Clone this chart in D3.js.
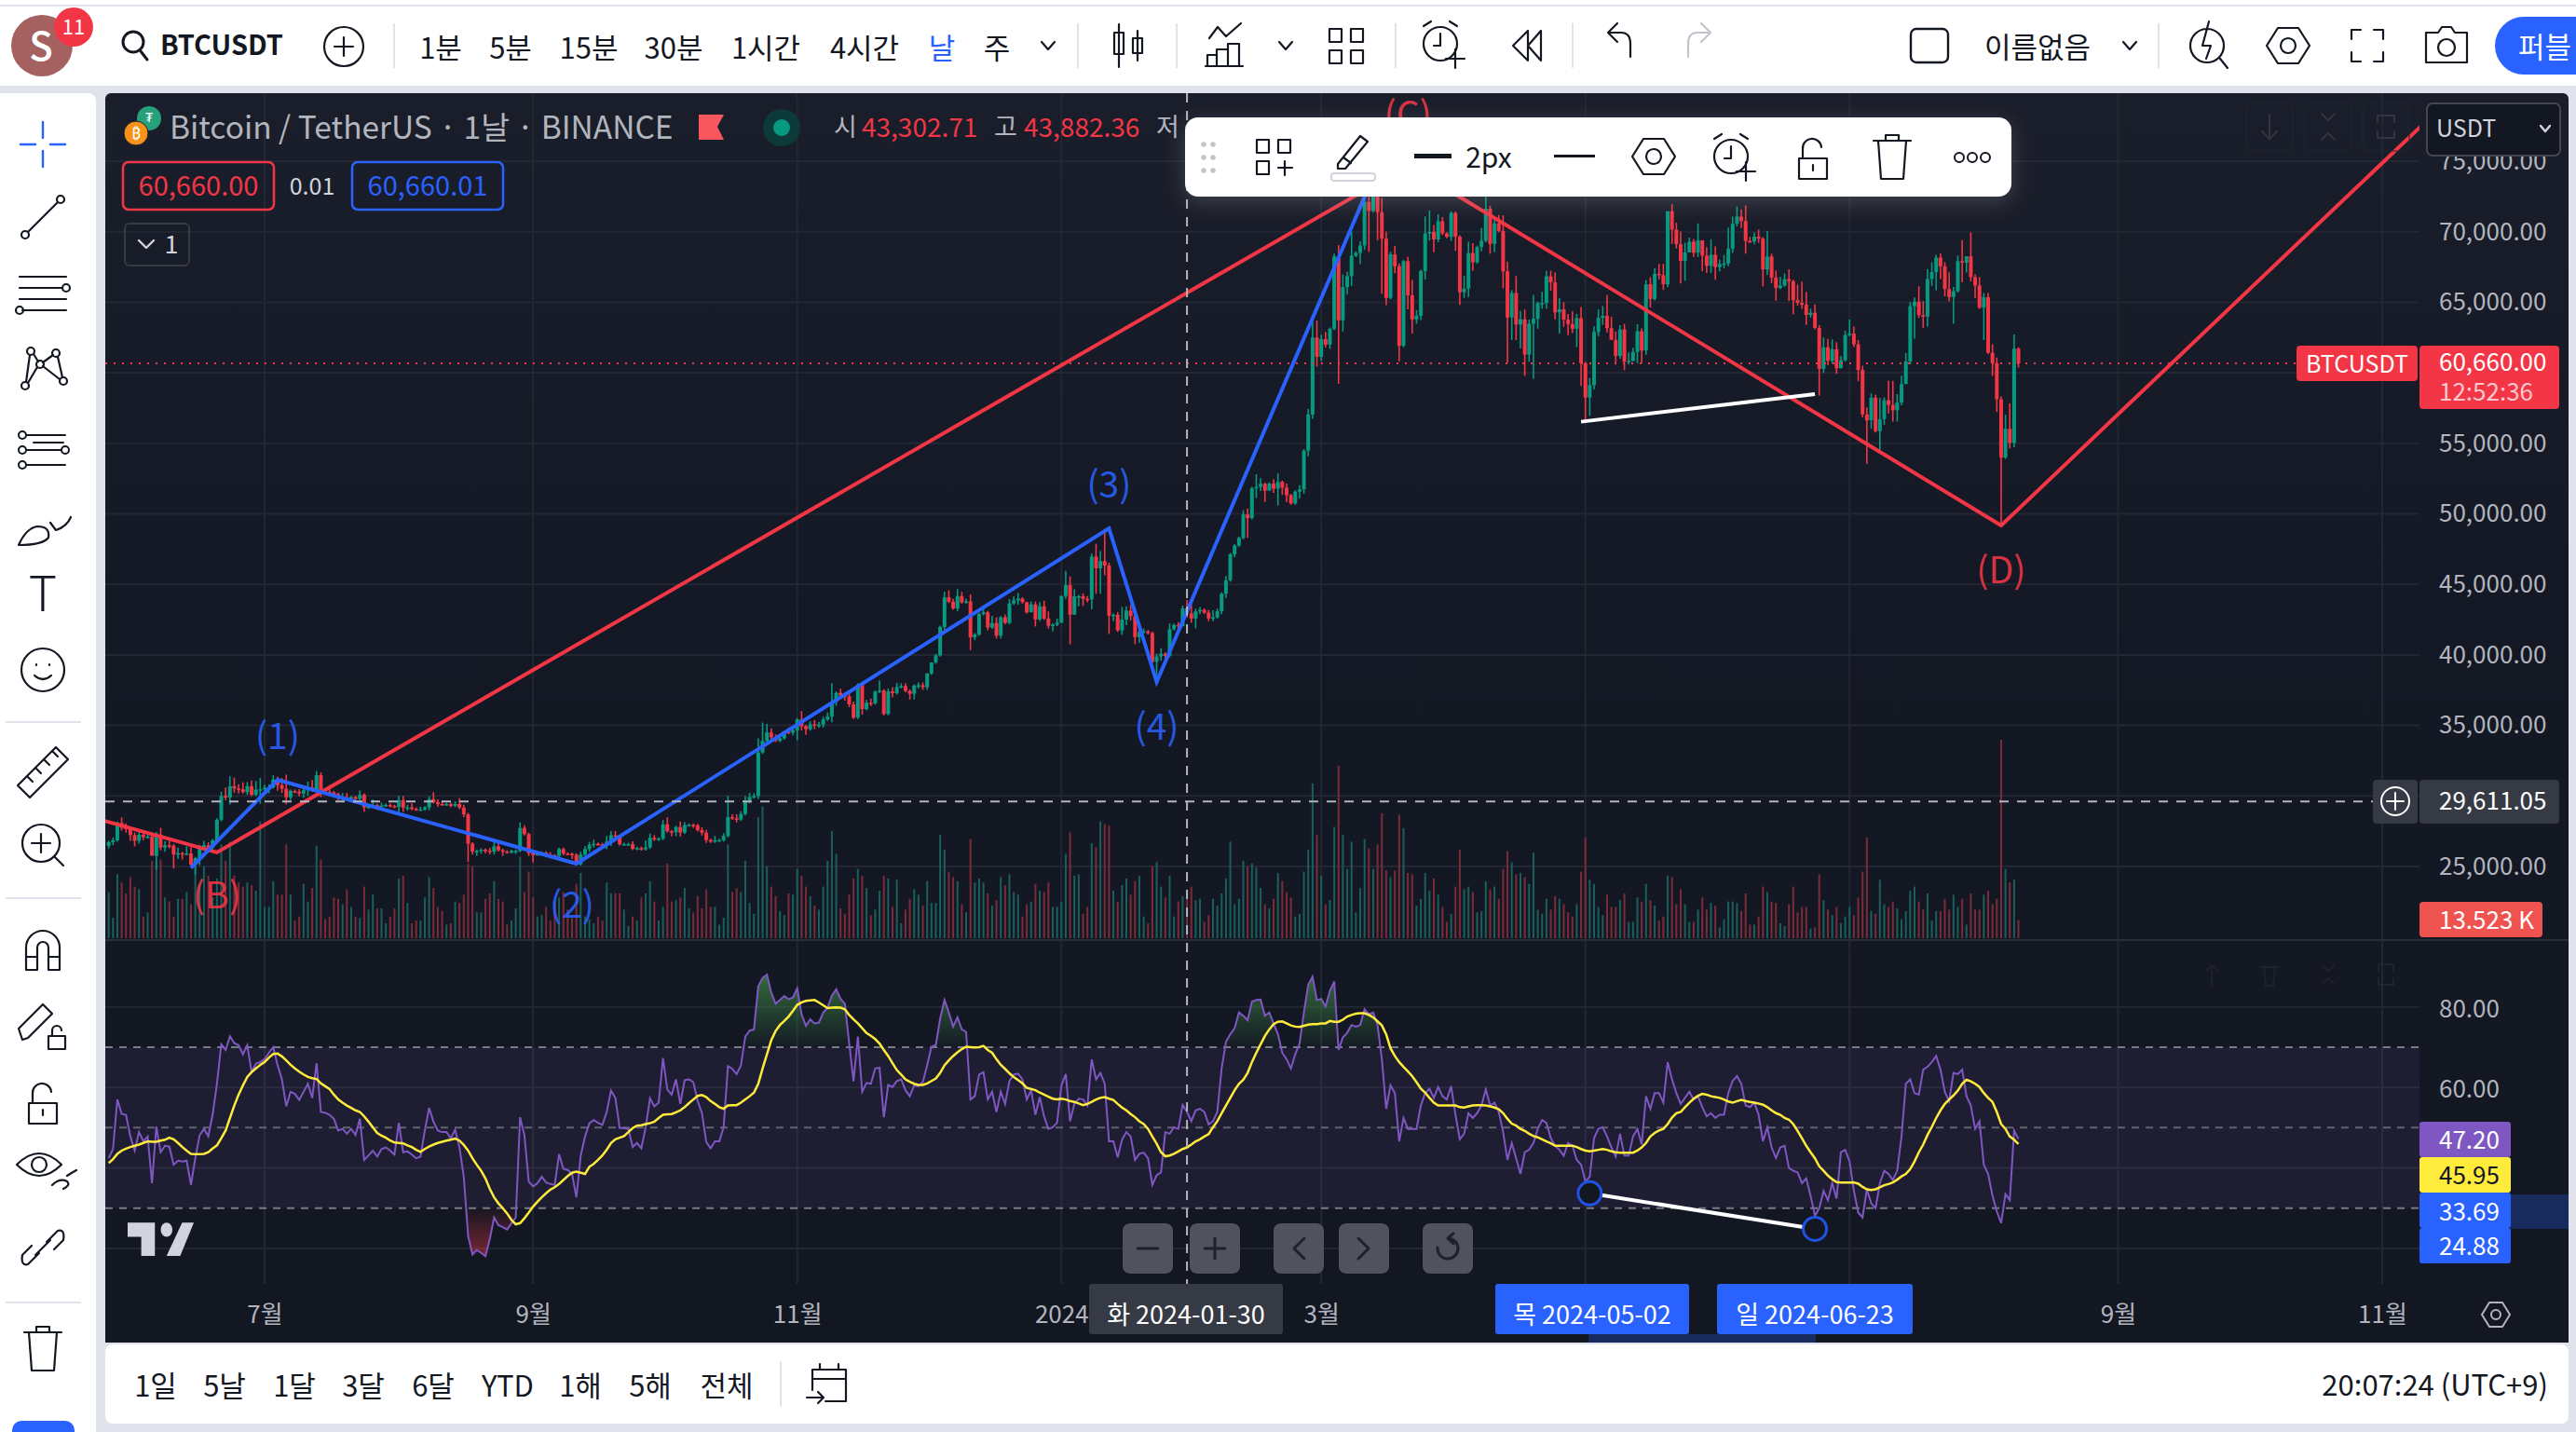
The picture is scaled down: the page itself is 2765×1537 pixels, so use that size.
<!DOCTYPE html>
<html>
<head>
<meta charset="utf-8">
<script src="https://cdn.jsdelivr.net/npm/d3@7"></script>
<style>
  html, body { margin: 0; padding: 0; background: #e0e3eb; }
  svg { display: block; }
  text { font-family: "Noto Sans CJK KR", "Noto Sans", sans-serif; }
</style>
</head>
<body>
<svg id="chart" width="2765" height="1537"></svg>
<script>
// Daily candles from 2023-05-26, prices in thousand USDT
const firstDay = Date.UTC(2023, 4, 26);
const firstOpen = 26.47;

const closes = [
  26.72,26.85,28.08,27.75,27.70,27.22,
  26.82,27.25,27.07,27.12,25.76,27.24,26.34,26.50,26.48,25.85,25.94,25.90,25.92,25.13,25.59,26.34,26.51,26.34,26.85,28.31,30.00,29.89,30.69,30.53,30.47,30.27,30.69,30.08,30.45,30.47,
  30.59,30.62,31.16,30.77,30.51,29.90,30.35,30.29,30.17,30.41,30.62,30.39,31.47,30.31,30.29,30.25,30.14,29.86,29.91,29.80,29.91,29.79,30.08,29.18,29.23,29.35,29.21,29.32,29.36,29.28,29.23,
  29.70,29.17,29.18,29.08,29.04,29.04,29.18,29.77,29.56,29.43,29.40,29.42,29.30,29.43,29.17,28.70,26.62,26.05,26.10,26.19,26.12,26.05,26.43,26.16,26.05,26.01,26.09,26.10,27.73,27.30,25.94,
  25.80,25.87,25.97,25.81,25.78,25.75,26.24,25.90,25.89,25.83,25.16,25.84,26.23,26.54,26.60,26.57,26.53,26.76,27.21,27.13,26.57,26.58,26.58,26.25,26.30,26.22,26.35,27.03,26.91,26.97,
  27.99,27.50,27.43,27.79,27.41,27.93,27.95,27.92,27.58,27.39,26.87,26.76,26.86,26.86,27.16,28.50,28.40,28.33,28.72,29.68,29.92,29.99,33.08,33.90,34.50,34.16,33.91,34.09,34.54,34.49,34.65,
  35.42,34.94,34.73,35.08,35.04,35.05,35.42,35.62,36.70,37.31,37.13,37.06,36.49,35.55,37.88,36.16,36.60,36.57,37.39,37.47,35.81,37.42,37.29,37.72,37.79,37.45,37.24,37.82,37.85,37.71,
  38.69,39.46,39.97,41.98,44.08,43.77,43.29,44.17,43.72,43.79,41.24,41.45,42.89,43.02,41.94,42.26,41.36,42.66,42.27,43.65,43.86,43.99,43.74,43.02,43.58,42.51,43.44,42.58,42.07,42.14,42.28,
  44.18,44.95,42.85,44.15,44.16,43.97,43.93,46.97,46.14,46.65,46.34,42.78,42.84,41.73,42.50,43.14,42.74,41.26,41.62,41.67,41.55,39.51,39.89,40.08,39.93,41.82,42.12,42.03,43.30,42.94,42.58,
  43.08,43.19,42.99,42.58,42.66,43.09,44.34,45.29,47.13,47.75,48.29,49.96,49.70,51.81,51.91,52.12,51.64,52.14,51.78,52.26,51.85,51.32,50.74,51.57,51.73,54.48,57.04,62.50,61.13,
  62.39,61.99,63.11,68.25,63.72,66.07,66.85,68.30,68.50,69.02,72.12,71.47,73.07,71.39,69.50,65.30,68.39,67.55,61.91,67.91,65.49,63.78,64.04,67.21,69.88,69.99,69.45,70.74,69.87,69.64,71.33,
  69.65,65.71,65.97,68.49,67.83,68.91,69.36,71.63,69.14,70.59,70.06,67.19,63.92,65.66,63.42,63.79,61.28,63.47,63.82,64.94,64.94,66.84,66.41,64.28,64.50,63.77,63.46,63.12,63.87,60.67,
  58.25,59.12,62.89,63.89,64.03,63.16,62.33,61.19,63.07,60.79,60.83,61.48,62.94,61.58,66.27,65.23,67.02,66.92,66.27,71.45,70.14,69.12,67.93,68.53,69.29,68.51,69.39,68.30,67.58,68.36,67.49,
  67.71,67.75,68.80,70.57,71.08,70.76,69.34,69.31,69.65,69.51,67.32,68.24,66.75,66.01,66.19,66.64,66.49,65.15,64.96,64.83,64.10,64.25,63.18,60.28,61.81,60.84,61.67,60.32,60.89,62.68,
  62.77,62.02,60.20,57.04,56.63,58.23,55.86,56.71,58.05,57.72,57.34,57.89,59.20,60.80,64.72,65.04,64.09,63.98,66.66,67.14,68.17,67.54,65.93,65.37,65.78,67.91,67.81,68.26,66.78,66.19,64.62,
  65.35,61.42,60.68,58.12,53.99,56.03,55.03,61.71,60.66
];

// Wick lengths above and below the candle body, thousand USDT
const upperWicks = [
  .1,.2,.1,.4,.3,.1,
  .2,.3,.2,.3,.1,.2,.5,.3,.3,.1,.4,.1,.5,.5,.1,.2,.3,.2,.1,.1,.3,.6,.7,.6,.3,.5,.3,.4,.6,.8,
  .2,.2,.3,.2,.5,1.0,.1,.1,.2,.2,.4,.5,.3,.2,.1,.3,.1,.1,.3,.3,.1,.1,.3,.1,.1,.4,.1,.2,.1,.1,.1,
  .3,.3,.2,.3,.1,.2,.1,.2,.5,.2,.2,.1,.1,.2,.4,.2,.1,.1,.1,.1,.1,.2,.4,.3,.1,.1,.1,.1,.4,.2,.1,
  .2,.1,.1,.1,.2,.1,.1,.1,.1,.1,.1,.2,.2,.2,.3,.1,.1,.4,.3,.3,.1,.1,.1,.2,.1,.1,.5,.3,.2,.1,
  .3,.5,.1,.1,.4,.2,.1,.1,.1,.2,.2,.1,.3,.1,.2,1.5,.2,.3,.2,.3,.3,.2,1.0,1.3,.6,.3,.2,.1,.1,.3,.1,
  .1,.6,.1,.2,.3,.2,.2,.3,1.3,.1,.3,.2,.4,.2,.1,.1,.2,.3,.1,.7,.1,.2,.3,.3,.2,.2,.1,.1,.2,.2,
  .0,.0,.1,.1,.4,.5,.2,.5,.3,.2,.5,.1,.1,.3,.1,.5,.4,.1,.2,.3,.3,.4,.1,.0,.2,.2,.3,.4,.5,.1,.3,
  .0,1.0,.6,.5,.1,.2,.2,.2,.9,.7,2.3,.2,.1,.2,.9,.3,.4,.2,.3,.2,.1,.1,.2,.4,.1,.4,.1,.2,.2,.6,.8,
  .2,.2,.1,.2,.5,.2,.1,.3,.1,.1,.1,.3,.4,.1,.9,.4,.1,.1,.3,.6,.1,.3,.1,.1,.3,.1,.4,1.5,1.2,
  .3,.5,.1,.2,.8,.9,.3,1.7,.1,.3,.7,.9,.6,.7,1.0,.5,.2,.6,.2,.1,.3,1.1,.4,.1,1.2,1.5,.5,.5,.3,.1,.1,
  .1,.1,.9,.8,.7,.1,.9,1.1,.2,.3,.6,1.1,.7,.2,1.2,.6,.7,.3,1.7,.1,.8,.4,.4,.7,.8,.5,.4,.9,.3,.8,
  .1,.5,.4,.6,.7,1.5,.8,.6,.3,.4,.6,.3,.5,.2,.3,.5,.4,.7,.8,.0,.5,.5,.9,.7,.3,.2,1.2,.0,.6,1.1,.6,
  .3,.6,1.5,.5,.7,.5,1.1,.3,.3,.5,.1,1.8,.2,.5,.6,.4,.7,.1,1.1,1.5,.9,.3,.6,.2,.7,.6,.7,.5,.3,.3,
  1.0,.5,.3,.3,.5,.3,.2,1.5,.2,1.4,1.7,.6,.6,.6,.3,.3,1.1,1.0,.7,.7,.2,.3,.3,1.2,.3,.4,1.5,.0,1.7,.2,.6,
  .3,.3,.6,.4,.2,1.0,1.8,1.0,.1
];
const lowerWicks = [
  .2,.2,.1,.2,.3,.4,
  .4,.2,.2,.1,.0,1.0,.2,.3,.2,1.0,.3,.4,.1,.2,.7,.5,.1,.3,.3,.1,.1,.2,.5,.3,.3,.1,.2,.1,.1,1.0,
  .3,.4,.1,.4,.3,.5,.2,.1,.2,.3,.4,.1,.1,.4,.1,.2,.2,.2,.2,.1,.1,.2,.2,.3,.1,.1,.2,.1,.1,.1,.1,
  .4,.3,.2,.1,.1,.1,.1,.2,.1,.2,.1,.1,.1,.1,.1,.2,1.3,.2,.3,.2,.2,.2,.2,.1,.3,.1,.1,.2,.1,.1,.2,
  .5,.0,.1,.1,.2,.1,.2,.1,.1,.3,.1,.1,.1,.2,.2,.1,.1,.3,.3,.2,.1,.1,.1,.1,.1,.1,.1,.1,.1,.1,
  .1,.1,.3,.3,.3,.1,.1,.2,.1,.2,.2,.1,.1,.1,.1,.1,.1,.2,.1,.1,.2,.1,.2,.1,.2,.3,.1,.1,.1,.1,.2,
  .7,.3,.4,.1,.3,.2,.2,.1,.4,.3,.1,.3,.2,.1,.1,.4,.1,.2,.1,.1,.1,.1,.3,.1,.1,.1,.4,.4,.2,.2,
  .2,.1,.1,.1,.2,.1,.1,.2,.1,.1,.9,.2,.1,.1,.2,.1,.2,.2,.1,.1,.1,.3,.1,.1,.0,.5,.1,.1,.2,.4,.1,
  .0,.2,2.1,.0,.7,.5,.2,.7,1.8,1.8,.7,1.3,.4,.1,.3,.4,.3,.5,.4,.1,.1,.1,1.0,.3,.3,.1,.1,.3,.0,.3,.3,
  .7,.2,.1,.2,.2,.1,.2,.3,.1,.2,.1,.1,1.4,.1,.7,.3,.8,.0,.3,1.2,.5,.5,.1,.1,.5,.3,.4,.3,.7,
  .3,.2,.3,.1,4.5,.8,.5,.7,.1,.8,.3,2.9,.1,2.0,3.9,.5,.1,.5,1.1,.1,1.0,1.0,.3,.3,.6,.5,.9,.2,.1,.1,.3,
  1.0,.9,.4,.6,.6,.1,.3,.1,.7,.6,.1,1.2,3.2,1.6,1.1,1.7,1.5,.5,3.9,.7,.4,.4,.6,.5,1.5,.5,.8,.3,1.3,1.6,
  1.7,1.3,.3,.3,.5,.3,.0,.6,.2,.6,.2,.0,.8,.9,.3,.6,.1,.3,.4,.2,1.0,.3,1.6,1.4,.0,.3,.3,1.1,.5,.5,.9,
  .3,.3,.2,.3,.2,.5,.9,.1,.2,.3,1.2,.4,.4,.9,.1,.1,1.4,1.0,.2,.3,.7,.2,.1,1.9,.3,.3,.2,.4,.0,.1,
  .1,.2,.8,.2,3.1,.6,.1,1.5,.4,.6,.8,.8,.2,.0,.2,2.3,.2,.8,.7,.5,1.3,.9,.5,.3,1.9,.1,1.4,.7,.3,.9,.1,
  2.3,.1,.9,.9,4.9,.1,.4,.3,.3
];

// Volume in thousand BTC
const volumes = [
  34,15,47,41,33,45,38,36,16,19, 57,57,58,30,27,16,29,29,34,25, 53,39,53,46,30,44,69,57,71,46,
  41,38,41,39,35,86,23,23,42,32, 32,69,32,13,16,40,27,37,68,58, 14,16,30,29,25,36,23,16,15,38,
  21,32,22,22,11,16,22,44,46,26, 11,13,13,30,45,37,23,20,10,11, 27,26,32,55,53,19,19,29,33,42,
  29,27,10,13,22,60,34,49,30,16, 17,23,13,27,30,34,21,15,40,48, 16,14,11,16,13,41,33,33,33,21,
  9,16,13,30,33,42,27,13,23,55, 27,28,30,37,22,19,31,22,36,23, 23,10,15,69,34,37,34,57,26,18,
  89,97,53,38,31,20,17,33,32,51, 46,38,31,24,21,38,57,79,62,
  22,18,32,44,51,46,37,17,21,35, 46,44,23,43,11,21,29,36,32,24, 42,26,26,76,65,49,45,42,25,19,
  73,41,44,41,33,24,28,45,39,47, 34,32,16,25,27,40,35,34,41,23, 23,27,62,78,46,47,18,23,70,67,
  86,84,83,35,27,39,44,32,42,46, 16,11,53,56,38,30,46,16,27,31, 36,38,28,29,12,17,29,24,33,44,
  71,25,29,57,53,55,52,37,25,22, 29,48,42,34,30,16,18,49,65,114, 76,46,25,28,82,127,76,51,71,19,
  37,73,66,51,69,
  92,50,45,50,91,81,48,47,24,29, 48,35,44,32,23,12,18,38,65,36, 38,34,19,20,42,36,38,29,51,64,
  56,47,48,45,40,63,21,18,29,21, 31,29,25,19,16,25,49,74,43,40, 23,17,32,23,23,28,33,12,12,30,
  27,40,28,24,13,16,46,45,25,36, 25,12,12,21,30,21,26,24,8,14, 27,27,26,20,33,10,10,16,38,34,
  27,26,11,9,25,38,19,23,23,7, 8,47,28,21,17,23,11,16,23,17, 30,49,74,20,18,43,25,23,27,22,
  14,20,35,38,27,21,33,13,20,20, 29,21,32,23,29,10,33,21,21,32, 35,25,29,146,51,41,43,13.5
];

const rsiValues = [
  42.4,44.7,57,53.4,53.2,47.8,44.3,48.9,46.6,47.8, 36.2,50.3,43.9,45.5,45.3,40.8,41.8,41.6,41.8,35.8,
  42.4,48.1,49.7,47.9,53.2,60.9,70.7,69.3,72.7,71, 70.5,68.2,70.5,63.8,65.9,66.3,67,68.6,70,65.5,
  62,55.3,58.9,58.4,56.9,58.9,60.9,57.4,66,53.9, 53.7,53.2,52.2,49.3,49.7,48.5,49.7,48.2,52.2,42,
  43.1,44.3,42.8,44.7,45.1,44.3,43.3,51.2,43.9,44.1, 43.3,42.4,42.8,49.3,54.9,51.5,49.3,48.9,48.9,47.4,
  49.5,45.1,37.8,23.1,18.5,19.6,18.9,18.1,22.3,27.7, 25.8,25.3,24.7,26.2,27.7,52.6,48.1,36.6,35.4,36.2,
  37.8,36.4,36,35.8,43.4,39.8,39.5,38.5,32.7,43.1, 47.8,51.1,51.9,51.2,50.7,53.9,59.2,57.4,49.9,49.9,
  49.7,45.2,46.2,44.9,50.1,57.3,55.3,56.2,67.3,59.5, 58.2,62,55.9,61.8,62,61.3,56.6,53.6,46.4,44.9,
  46.6,46.6,50.1,65.3,64.6,63.3,65.5,72.6,74.1,74.4, 85.1,87.2,88,83.6,80.8,81.7,82.7,81.9,82.3,84.6,
  78.2,75.3,76.9,75.9,76.1,78.6,79.8,82.8,84.4,82, 80.8,70.9,61.5,72.6,58.9,61.1,60.9,64.7,64.9,52.6,
  60.6,60.1,61.6,62,59.3,57.8,60.5,60.3,61.3,65.5, 70.1,70.5,77.1,81.7,78.6,75.1,77.4,74.4,73.8,57,
  57.8,63.2,63.8,57,58.9,53.9,58.9,55.9,61.6,63.2, 63.4,62,57,59.3,53.2,57.6,52.8,49.7,50.1,51.2,
  60.5,63.3,51.6,55.9,57.2,57,55.5,66.9,62,63.6, 60.9,46.6,46.6,42.6,47,48.9,47.8,42,43.5,43.8,
  42.4,35.8,38.2,38.9,48.9,48.5,50.1,49.7,55.7,53.9, 51.6,54.3,54.7,53.9,50.8,51.6,53.9,64.7,71.3,73.2,
  74.7,78.6,77.8,76.7,81.3,81.7,81.8,77.8,78.6,75.9, 73.2,68.6,67,64.7,68.2,70.9,78.6,85.5,87.5,81.7,
  82,80.1,84,86.3,69.3,72.4,73.6,75.5,75.1,75.5, 79.4,78.2,78.6,75.5,67,54.7,60.5,58.6,46.6,52.4,
  49.7,49.7,49.7,55.5,58.6,59.7,57.4,60.1,57.8,57, 60.3,53.2,47.1,48.5,53.6,52.4,53.6,55.5,59.5,55.5,
  56.2,53.9,48.9,42,46.2,42.4,38.5,43.9,44.5,46.2, 49.7,51.9,51.2,47.4,45.5,44.5,43,46.2,45.5,42,
  40.8,36.6,37.8,47.4,49.7,50.1,47.8,45.1,42.8,48.5, 43.1,43.1,47.8,49.7,45.8,57.8,54.7,58.6,58.6,56.2,
  66.3,62,58.6,55.9,57.4,58.9,57,57.8,55.1,52.8, 53.6,52.4,53.2,53.2,58.6,61.6,62.8,60.9,55.5,55.1,
  56.2,53.2,46.6,50.1,45.1,42.5,45.1,45.5,40,39.3, 38.9,36.2,37.4,33.1,28.1,30,34.3,32,36.2,32.4,
  43.9,44.5,41.6,34.3,28.9,27.7,34.7,31.2,30,36.2, 39.3,38.5,37,39.3,47.8,60.9,62,58.6,58.2,64.4,
  65.1,66.3,67.8,64.4,58.9,56.6,63.6,63.3,64.4,57.8, 55.5,49.7,51.6,40.8,38.5,33.1,29.2,26.3,33.5,32,
  49.3,47.2
];

const rsiAverage = [
  41.2,42.2,43.5,44.3,44.8,45.2,45.5,45.8,46.2,46.6, 46.5,46.5,46.8,47,47.5,47.1,46.2,45.2,44.3,43.5,
  43.4,43.4,43.5,43.9,44.8,45.6,47.4,49.3,52.4,55.5, 58.2,60.5,62.6,63.8,64.7,65.6,66.3,67.4,68.3,68.4,
  67.7,66.7,65.6,64.7,63.9,63.2,62.6,62.3,62.1,61, 60.3,59.6,58.2,57,56.2,55.5,54.9,54.3,53.9,52.8,
  51.5,50.1,48.7,48,47.5,46.8,46.3,46.2,46.1,45.6, 45.2,44.5,44,44.7,45.3,45.8,46.2,46.5,46.8,47,
  47.3,46.8,45.7,44.3,42.4,40.8,39.3,37.4,34.8,32.7, 31.2,30,28.7,27.1,26,26.3,27.5,28.9,30.4,31.6,
  32.7,33.7,34.6,35.2,36,37,38,38.8,39.1,38.8, 38.5,40.3,41,42,43.1,44.5,46.2,47.1,47.5,47.9,
  48.9,49.9,50.5,50.6,50.9,51.1,51.5,52.4,53.2,53.3, 53.4,53.8,54.3,55.1,56.1,57,57.9,58.1,57.6,56.6,
  55.9,55.1,54.7,55.5,55.6,55.6,56.2,57,57.8,58.7, 60.9,64.7,68.2,71.7,74,75.5,76.5,77.6,79,80.5,
  81.1,81.5,81.6,81.7,81.1,80.4,79.7,79.8,79.9,79.8, 79.4,78,76.9,75.9,74.7,73.5,72.8,72,70.9,69.3,
  67.8,66,64.3,63.2,62,61.4,60.9,60.6,60.6,61, 61.6,62.2,63.6,65.5,66.7,67.8,68.7,69.5,70.1,70,
  69.9,70,70.3,69.3,68.6,67,65.6,64.6,63.5,62.6, 61.8,61,59.9,59.6,59.3,58.7,58.2,57.7,57.2,57,
  57.2,57,56.6,56.4,56,55.6,55.9,56.4,57,57.4, 57.6,57.2,56.9,55.9,55,54.3,53.4,52.6,51.6,50.9,
  49.7,47.8,46,43.9,42.9,43.1,43.5,44.1,44.7,45.1, 45.8,46.6,47.1,47.8,48.4,50.1,51.6,53.6,55.5,57.4,
  59.3,60.9,61.9,63.6,66.3,68.6,70.7,72.8,74.4,75.7, 76.3,76.4,75.9,75.4,75.1,75,75.3,75.6,75.7,75.7,
  75.9,75.9,76.5,76.3,76.3,76.8,77.6,78,78.3,78.4, 78.4,78,77.4,76.4,75.4,73.2,69.7,67.8,66.3,65.1,
  64,62.8,61.3,59.7,58.7,57.4,56.2,55.5,55.5,55.5, 55.5,55.5,55.1,55,55.3,55.5,55.6,55.6,55.5,55.3,
  55,54.6,53.6,52.2,51,50.5,49.7,49.2,48.5,47.9, 47.6,47.1,46.6,46.1,45.5,45.5,45.5,45.5,45.5,45.2,
  44.7,44.3,44.1,44.3,44.5,44.7,44.5,44.1,43.9,43.8, 43.8,43.8,43.8,44.3,45.1,46.2,47.8,48.7,49.3,49.7,
  50.9,52.5,53.6,53.9,55.1,56.2,57.2,57.9,58.4,58.2, 57.8,57.6,57.4,57,56.5,56.2,56.6,56.9,56.6,56.4,
  56.2,56,55.7,55.1,54.3,53.6,53.2,52.4,52,50.9, 49.2,47.4,45.5,43.9,42.4,40.4,39.3,38.1,37.2,36.5,
  36.4,36.4,36.4,36.4,36.1,35.3,34.7,34.5,34.7,35.2, 35.7,36,36.4,37.1,37.9,38.5,39.7,41.6,43.9,45.8,
  48.2,50.2,52.4,54.3,55.9,57,58,59.2,60.9,61.9, 61.5,60.9,60.1,58.6,57.4,56.4,53.9,50.9,49.7,47.8,
  47,45.95
];

// Hand drawn tools, [date, price in thousand USDT]
const blueWave = [['2023-06-14',24.9],['2023-07-04',31.14],['2023-09-11',25.2],['2024-01-12',48.97],['2024-01-23',38.08],['2024-03-13',73.9]];
const redWave = [['2023-05-25',28.24],['2023-06-20',26.0],['2024-03-21',74.7],['2024-08-05',49.17],['2024-11-10',77.5]];
const priceTrend = [['2024-04-30',56.53],['2024-06-23',58.49]];
const rsiTrend = [['2024-05-02',33.69],['2024-06-23',24.88]];
const waveLabels = [
  ['(1)','2023-07-04',34.25,'#2962ff'],['(2)','2023-09-10',22.3,'#2962ff'],['(3)','2024-01-12',52.08,'#2962ff'],['(4)','2024-01-23',34.9,'#2962ff'],
  ['(B)','2023-06-20',22.9,'#f23645'],['(C)','2024-03-21',78.3,'#f23645'],['(D)','2024-08-05',46.0,'#f23645']
];

const priceTicks = [25,30,35,40,45,50,55,60,65,70,75];
const priceLabelTicks = [25,35,40,45,50,55,65,70,75];
const rsiTicks = [80,60,40,20];
const rsiLabelTicks = [80,60];
const rsiLevels = [70,50,30];
const monthTicks = ['2023-07-01','2023-09-01','2023-11-01','2024-01-01','2024-03-01','2024-05-01','2024-07-01','2024-09-01','2024-11-01'];
const monthLabels = ['7월','9월','11월','2024','3월','','','9월','11월'];
const intervals = [['1분',473],['5분',548],['15분',632],['30분',723],['1시간',822],['4시간',928],['날',1011],['주',1070]];
const ranges = [['1일',167],['5날',241],['1달',316],['3달',390],['6달',465],['YTD',545],['1해',623],['5해',698],['전체',780]];

[upperWicks, lowerWicks, volumes, rsiValues, rsiAverage].forEach((a, i) => {
  if (a.length !== closes.length) throw new Error('length ' + i + ': ' + a.length + ' vs ' + closes.length);
});

const UP = '#089981', DOWN = '#f23645', BLUE = '#2962ff', RED = '#f23645';
const TXT = '#b2b5be', INK = '#131722';
const parse = d3.utcParse('%Y-%m-%d');

const candles = closes.map((close, i) => {
  const open = i ? closes[i - 1] : firstOpen;
  return {
    date: d3.utcDay.offset(firstDay, i), open, close,
    high: Math.max(open, close) + upperWicks[i],
    low: Math.min(open, close) - lowerWicks[i],
    volume: volumes[i], rsi: rsiValues[i], avg: rsiAverage[i]
  };
});

// Panes
const left = 113, right = 2597, edge = 2757;
const priceTop = 100, priceBottom = 1009, rsiBottom = 1378, axisBottom = 1441;

const x = d3.scaleUtc().domain([parse('2023-07-01'), parse('2024-11-01')]).range([284, 2557]);
const y = d3.scaleLinear().domain([25, 75]).range([930, 173]);
const yVol = d3.scaleLinear().domain([0, 155]).range([1007, 781]);
const yRsi = d3.scaleLinear().domain([20, 80]).range([1340, 1080.7]);

const svg = d3.select('#chart');
const defs = svg.append('defs');

const bgGrad = defs.append('linearGradient').attr('id', 'bg').attr('x2', 0).attr('y2', 1);
bgGrad.append('stop').attr('offset', 0).attr('stop-color', '#1a1e2a');
bgGrad.append('stop').attr('offset', .45).attr('stop-color', '#141824');
bgGrad.append('stop').attr('offset', 1).attr('stop-color', '#131722');

const obGrad = defs.append('linearGradient').attr('id', 'ob').attr('gradientUnits', 'userSpaceOnUse')
  .attr('x1', 0).attr('x2', 0).attr('y1', yRsi(88)).attr('y2', yRsi(70));
obGrad.append('stop').attr('offset', 0).attr('stop-color', '#4caf50').attr('stop-opacity', .55);
obGrad.append('stop').attr('offset', 1).attr('stop-color', '#4caf50').attr('stop-opacity', .02);
const osGrad = defs.append('linearGradient').attr('id', 'os').attr('gradientUnits', 'userSpaceOnUse')
  .attr('x1', 0).attr('x2', 0).attr('y1', yRsi(30)).attr('y2', yRsi(18));
osGrad.append('stop').attr('offset', 0).attr('stop-color', '#f23645').attr('stop-opacity', .02);
osGrad.append('stop').attr('offset', 1).attr('stop-color', '#f23645').attr('stop-opacity', .45);

const clip = (id, x0, y0, x1, y1) => defs.append('clipPath').attr('id', id).append('rect')
  .attr('x', x0).attr('y', y0).attr('width', x1 - x0).attr('height', y1 - y0);
clip('pricePane', left, priceTop, right, priceBottom);
clip('rsiPane', left, priceBottom, right, rsiBottom);
clip('above70', left, priceBottom, right, yRsi(70));
clip('below30', left, yRsi(30), right, rsiBottom);
clip('screen', 0, 0, 2765, 1537);

const shadow = defs.append('filter').attr('id', 'shadow').attr('x', '-10%').attr('y', '-30%').attr('width', '120%').attr('height', '170%');
shadow.append('feDropShadow').attr('dx', 0).attr('dy', 6).attr('stdDeviation', 12).attr('flood-color', '#b2b5be').attr('flood-opacity', .25);

// Page frame
svg.append('rect').attr('width', 2765).attr('height', 1537).attr('fill', '#e0e3eb');
svg.append('rect').attr('width', 2765).attr('height', 5).attr('fill', '#fff');
svg.append('rect').attr('y', 7).attr('width', 2765).attr('height', 85).attr('fill', '#fff');
svg.append('rect').attr('y', 100).attr('x', -12).attr('width', 115).attr('height', 1460).attr('rx', 8).attr('fill', '#fff');
svg.append('rect').attr('x', left).attr('y', priceTop).attr('width', edge - left).attr('height', axisBottom - priceTop).attr('rx', 6).attr('fill', 'url(#bg)');
svg.append('rect').attr('x', left).attr('y', rsiBottom).attr('width', edge - left).attr('height', axisBottom - rsiBottom).attr('fill', INK);
svg.append('rect').attr('x', left).attr('y', 1443).attr('width', edge - left).attr('height', 85).attr('rx', 8).attr('fill', '#fff');

// Grid
const GRID = '#232733';
const grid = svg.append('g').attr('stroke', GRID).attr('stroke-width', 2);
grid.selectAll('.v').data(monthTicks).join('line').attr('class', 'v')
  .attr('x1', d => x(parse(d))).attr('x2', d => x(parse(d))).attr('y1', priceTop).attr('y2', rsiBottom);
grid.selectAll('.h').data(priceTicks).join('line').attr('class', 'h')
  .attr('x1', left).attr('x2', right).attr('y1', d => y(d)).attr('y2', d => y(d));
grid.selectAll('.r').data(rsiTicks).join('line').attr('class', 'r')
  .attr('x1', left).attr('x2', right).attr('y1', d => yRsi(d)).attr('y2', d => yRsi(d));
grid.append('line').attr('x1', left).attr('x2', edge).attr('y1', priceBottom).attr('y2', priceBottom).attr('stroke', '#2a2e39');

// Volume, candles
const pricePane = svg.append('g').attr('clip-path', 'url(#pricePane)');
pricePane.selectAll('.vol').data(candles).join('rect').attr('class', 'vol')
  .attr('x', d => x(d.date) - 1).attr('width', 2)
  .attr('y', d => yVol(d.volume)).attr('height', d => yVol(0) - yVol(d.volume))
  .attr('fill', d => d.close >= d.open ? '#1b5f5b' : '#7c2c38');

pricePane.selectAll('.wick').data(candles).join('line').attr('class', 'wick')
  .attr('x1', d => x(d.date)).attr('x2', d => x(d.date))
  .attr('y1', d => y(d.high)).attr('y2', d => y(d.low)).attr('stroke-width', 1.6)
  .attr('stroke', d => d.close >= d.open ? UP : DOWN);
pricePane.selectAll('.body').data(candles).join('rect').attr('class', 'body')
  .attr('x', d => x(d.date) - 2).attr('width', 4)
  .attr('y', d => y(Math.max(d.open, d.close)))
  .attr('height', d => Math.max(1.5, Math.abs(y(d.open) - y(d.close))))
  .attr('fill', d => d.close >= d.open ? UP : DOWN);

// Last price line
pricePane.append('line').attr('x1', left).attr('x2', 2465).attr('y1', y(60.66)).attr('y2', y(60.66))
  .attr('stroke', RED).attr('stroke-width', 2).attr('stroke-dasharray', '2 7');

// Drawings
const toolLine = (xs, ys) => d3.line().x(d => xs(parse(d[0]))).y(d => ys(d[1]));
pricePane.append('path').attr('d', toolLine(x, y)(redWave)).attr('fill', 'none').attr('stroke', RED).attr('stroke-width', 4);
pricePane.append('path').attr('d', toolLine(x, y)(blueWave)).attr('fill', 'none').attr('stroke', BLUE).attr('stroke-width', 4);
pricePane.append('path').attr('d', toolLine(x, y)(priceTrend)).attr('fill', 'none').attr('stroke', '#fff').attr('stroke-width', 4);

pricePane.selectAll('.wave').data(waveLabels).join('text').attr('class', 'wave')
  .attr('x', d => x(parse(d[1]))).attr('y', d => y(d[2])).attr('dy', '.35em')
  .attr('text-anchor', 'middle').attr('font-size', 39).attr('fill', d => d[3]).attr('fill-opacity', .9)
  .text(d => d[0]);

// RSI pane
const rsiPane = svg.append('g').attr('clip-path', 'url(#rsiPane)');
rsiPane.append('rect').attr('x', left).attr('width', right - left)
  .attr('y', yRsi(70)).attr('height', yRsi(30) - yRsi(70)).attr('fill', '#7e57c2').attr('fill-opacity', .1);
rsiPane.selectAll('.lvl').data(rsiLevels).join('line').attr('class', 'lvl')
  .attr('x1', left).attr('x2', right).attr('y1', d => yRsi(d)).attr('y2', d => yRsi(d))
  .attr('stroke', d => d === 50 ? '#62646f' : '#787b86').attr('stroke-width', 2).attr('stroke-dasharray', '8 7');

const rsiArea = level => d3.area().x(d => x(d.date)).y0(yRsi(level)).y1(d => yRsi(d.rsi));
rsiPane.append('path').attr('d', rsiArea(70)(candles)).attr('fill', 'url(#ob)').attr('clip-path', 'url(#above70)');
rsiPane.append('path').attr('d', rsiArea(30)(candles)).attr('fill', 'url(#os)').attr('clip-path', 'url(#below30)');
rsiPane.append('path').attr('d', d3.line().x(d => x(d.date)).y(d => yRsi(d.rsi))(candles))
  .attr('fill', 'none').attr('stroke', '#7e57c2').attr('stroke-width', 2);
rsiPane.append('path').attr('d', d3.line().x(d => x(d.date)).y(d => yRsi(d.avg))(candles))
  .attr('fill', 'none').attr('stroke', '#ffeb3b').attr('stroke-width', 2.5);

rsiPane.append('path').attr('d', toolLine(x, yRsi)(rsiTrend)).attr('stroke', '#fff').attr('stroke-width', 4).attr('fill', 'none');
rsiPane.selectAll('.anchor').data(rsiTrend).join('circle').attr('class', 'anchor')
  .attr('cx', d => x(parse(d[0]))).attr('cy', d => yRsi(d[1])).attr('r', 12.5)
  .attr('fill', INK).attr('stroke', '#1e53e5').attr('stroke-width', 3);

// Crosshair
const crossDash = '10 9';
svg.append('line').attr('x1', left).attr('x2', 2547).attr('y1', y(29.61105)).attr('y2', y(29.61105))
  .attr('stroke', '#b2b5be').attr('stroke-width', 2).attr('stroke-dasharray', crossDash);
svg.append('line').attr('x1', x(parse('2024-01-30'))).attr('x2', x(parse('2024-01-30'))).attr('y1', priceTop).attr('y2', rsiBottom)
  .attr('stroke', '#b2b5be').attr('stroke-width', 2).attr('stroke-dasharray', crossDash);

// Price axes
const styleAxis = g => {
  g.select('.domain').remove();
  g.selectAll('.tick line').remove();
  g.selectAll('text').attr('fill', TXT).attr('font-size', 26).attr('x', 2618 - right).attr('text-anchor', 'start')
    .style('font-family', '"Noto Sans CJK KR", "Noto Sans", sans-serif');
};
svg.append('g').attr('transform', `translate(${right},0)`)
  .call(d3.axisRight(y).tickValues(priceLabelTicks).tickFormat(d => d3.format(',.2f')(d * 1000))).call(styleAxis);
svg.append('g').attr('transform', `translate(${right},2)`)
  .call(d3.axisRight(yRsi).tickValues(rsiLabelTicks).tickFormat(d3.format('.2f'))).call(styleAxis);

// Time axis
svg.append('g').attr('transform', `translate(0,${rsiBottom})`)
  .call(d3.axisBottom(x).tickValues(monthTicks.map(parse)).tickFormat((d, i) => monthLabels[i]))
  .call(g => {
    g.select('.domain').remove();
    g.selectAll('.tick line').remove();
    g.selectAll('text').filter(function () { return !this.textContent; }).remove();
    g.selectAll('text').attr('fill', TXT).attr('font-size', 26).attr('y', 33).attr('dy', '.35em')
      .style('font-family', '"Noto Sans CJK KR", "Noto Sans", sans-serif');
  });

// Helpers for labels and icons
const label = (g, text, xp, yp, size, fill, opts = {}) => g.append('text').attr('x', xp).attr('y', yp).attr('dy', '.35em')
  .attr('font-size', size).attr('fill', fill).attr('text-anchor', opts.anchor || 'middle')
  .attr('font-weight', opts.weight || 400).text(text);
const box = (g, x0, y0, x1, y1, fill, r = 3) => g.append('rect').attr('x', x0).attr('y', y0)
  .attr('width', x1 - x0).attr('height', y1 - y0).attr('rx', r).attr('fill', fill);
const icon = (g, xp, yp, d, color = '#131722', width = 2.2, fill = 'none') => g.append('path')
  .attr('transform', `translate(${xp},${yp})`).attr('d', d)
  .attr('fill', fill).attr('stroke', color).attr('stroke-width', width).attr('stroke-linecap', 'round').attr('stroke-linejoin', 'round');

const circlePath = (cx, cy, r) => `M${cx - r},${cy}a${r},${r} 0 1,0 ${2 * r},0a${r},${r} 0 1,0 ${-2 * r},0`;
const HEX = `M-11,-19H11L23,0L11,19H-11L-23,0Z${circlePath(0, 0, 8)}`;
const GRID4 = 'M-18,-18h13v14h-13zM5,-18h13v14h-13zM-18,5h13v14h-13zM5,5h13v14h-13z';
const ALARM = `${circlePath(-2, 0, 18)}M-2,-11V2H-9M-20,-19L-12,-24M16,-19L8,-24M14,6V26M4,16H24`;
const TRASH = 'M-20,-17H20M-7,-17V-23H7V-17M-15,-17L-12,24H12L15,-17';
const UNLOCK = 'M-15,2H15V24H-15ZM0,9V15M-11,2V-8A10,10 0 0,1 9,-10';

// Axis badges
const ax = svg.append('g');
box(ax, 2465, 371, 2595, 409, RED, 4);
label(ax, 'BTCUSDT', 2530, 391, 25, '#fff');
box(ax, 2597, 371, 2747, 439, RED, 4);
label(ax, '60,660.00', 2618, 389, 26, '#fff', { anchor: 'start' });
label(ax, '12:52:36', 2618, 421, 26, '#fbc7cc', { anchor: 'start' });
box(ax, 2547, 837, 2595, 884, '#363a45', 4);
icon(ax, 2571, 860, `${circlePath(0, 0, 15)}M-9,0H9M0,-9V9`, '#fff', 2);
box(ax, 2597, 837, 2747, 884, '#363a45', 4);
label(ax, '29,611.05', 2618, 860, 26, '#fff', { anchor: 'start' });
box(ax, 2597, 968, 2729, 1006, '#ef5350', 4);
label(ax, '13.523 K', 2618, 988, 26, '#fff', { anchor: 'start' });

box(ax, 2694, 1282, edge, 1319, '#182b5c', 0);
box(ax, 2597, 1204, 2695, 1242, '#7e57c2', 3);
label(ax, '47.20', 2618, 1224, 26, '#fff', { anchor: 'start' });
box(ax, 2597, 1242, 2695, 1280, '#ffeb3b', 3);
label(ax, '45.95', 2618, 1262, 26, '#131722', { anchor: 'start' });
box(ax, 2597, 1280, 2695, 1318, BLUE, 3);
label(ax, '33.69', 2618, 1301, 26, '#fff', { anchor: 'start' });
box(ax, 2597, 1318, 2695, 1356, BLUE, 3);
label(ax, '24.88', 2618, 1338, 26, '#fff', { anchor: 'start' });

// Date badges
box(ax, 1705, 1432, 1949, 1441, '#182b5c', 0);
box(ax, 1169, 1378, 1377, 1432, '#363a45', 3);
label(ax, '화 2024-01-30', 1273, 1412, 27, '#fff');
box(ax, 1605, 1378, 1813, 1432, BLUE, 3);
label(ax, '목 2024-05-02', 1709, 1412, 27, '#fff');
box(ax, 1843, 1378, 2053, 1432, BLUE, 3);
label(ax, '일 2024-06-23', 1948, 1412, 27, '#fff');
icon(ax, 2679, 1411, 'M-7,-13H7L15,0L7,13H-7L-15,0Z' + circlePath(0, 0, 5), TXT, 2);

// Legend
const lg = svg.append('g');
lg.append('circle').attr('cx', 160).attr('cy', 127).attr('r', 13).attr('fill', '#26a17b');
lg.append('circle').attr('cx', 146).attr('cy', 143).attr('r', 13).attr('fill', '#f7931a').attr('stroke', '#1a1e2a').attr('stroke-width', 1);
label(lg, '₿', 146, 143, 17, '#fff');
label(lg, '₮', 160, 126, 14, '#fff');
label(lg, 'Bitcoin / TetherUS · 1날 · BINANCE', 182, 137, 33.5, TXT, { anchor: 'start' });
lg.append('path').attr('d', 'M750,123H777L770,136L777,150H750Z').attr('fill', '#f9575f');
lg.append('circle').attr('cx', 839).attr('cy', 137).attr('r', 20).attr('fill', '#0b3a38');
lg.append('circle').attr('cx', 839).attr('cy', 137).attr('r', 9).attr('fill', UP);
label(lg, '시', 895, 137, 27, TXT, { anchor: 'start' });
label(lg, '43,302.71', 925, 137, 28, RED, { anchor: 'start' });
label(lg, '고', 1067, 137, 27, TXT, { anchor: 'start' });
label(lg, '43,882.36', 1099, 137, 28, RED, { anchor: 'start' });
label(lg, '저', 1241, 137, 27, TXT, { anchor: 'start' });

const orderBox = (x0, color, text) => {
  lg.append('rect').attr('x', x0).attr('y', 174).attr('width', 162).attr('height', 51).attr('rx', 6)
    .attr('fill', 'none').attr('stroke', color).attr('stroke-width', 2.5);
  label(lg, text, x0 + 81, 200, 29, color);
};
orderBox(132, RED, '60,660.00');
label(lg, '0.01', 335, 200, 25, '#d1d4dc');
orderBox(378, BLUE, '60,660.01');
lg.append('rect').attr('x', 134).attr('y', 240).attr('width', 69).attr('height', 45).attr('rx', 5).attr('fill', 'none').attr('stroke', '#363a45').attr('stroke-width', 2);
icon(lg, 157, 262, 'M-8,-4L0,4L8,-4', '#d1d4dc', 2.4);
label(lg, '1', 184, 263, 27, '#d1d4dc');

// Faint pane buttons
const faint = svg.append('g').attr('opacity', .5);
[2411, 2474, 2536].forEach(x0 => faint.append('rect').attr('x', x0).attr('y', 110).attr('width', 50).attr('height', 52).attr('rx', 8).attr('fill', 'none').attr('stroke', '#232733').attr('stroke-width', 2));
icon(faint, 2436, 136, 'M0,-13V13M-8,5L0,13L8,5', '#4a4d58', 2);
icon(faint, 2499, 136, 'M-7,-14L0,-7L7,-14M-7,14L0,7L7,14', '#4a4d58', 2);
icon(faint, 2561, 136, 'M-9,-5V-12H9V-5M-9,5V12H9V5', '#4a4d58', 2);
[2374, 2436, 2499, 2561].forEach((xp, i) => icon(faint, xp, 1046, ['M0,-10V12M-6,-4L0,-10L6,-4', 'M-9,-8H9M-6,-8L-4,12H4L6,-8', 'M-6,-10L0,-4L6,-10M-6,10L0,4L6,10', 'M-8,-4V-11H8V-4M-8,4V11H8V4'][i], '#2a2e39', 2));

lg.append('rect').attr('x', 2605).attr('y', 111).attr('width', 143).attr('height', 56).attr('rx', 6).attr('fill', INK).attr('stroke', '#434651').attr('stroke-width', 2);
label(lg, 'USDT', 2615, 138, 25, '#d1d4dc', { anchor: 'start' });
icon(lg, 2732, 138, 'M-5,-3L0,3L5,-3', '#d1d4dc', 2.4);

// TradingView mark
svg.append('g').attr('transform', 'translate(137,1297) scale(2.09,2.55)').attr('fill', '#d1d4dc')
  .call(g => {
    g.append('path').attr('d', 'M14,6H0V12H7V20H14Z');
    g.append('circle').attr('cx', 20).attr('cy', 9).attr('r', 3);
    g.append('path').attr('d', 'M27,20H20L28,6H34Z');
  });

// Navigation buttons
const nav = svg.append('g');
[[1205, 'M-11,0H11'], [1277, 'M-11,0H11M0,-11V11'], [1367, 'M6,-11L-5,0L6,11'], [1437, 'M-6,-11L5,0L-6,11'], [1527, 'M-11,-1A11,11 0 1,0 0,-11M0,-11L6,-16M0,-11L6,-5']].forEach(([x0, d]) => {
  box(nav, x0, 1313, x0 + 54, 1367, '#50535e', 8);
  icon(nav, x0 + 27, 1340, d, '#1e222d', 3);
});

// Floating drawing toolbar
const tb = svg.append('g');
tb.append('rect').attr('x', 1272).attr('y', 126).attr('width', 887).attr('height', 85).attr('rx', 14).attr('fill', '#fff').attr('filter', 'url(#shadow)');
[[-8, -14], [8, -14], [-8, 0], [8, 0], [-8, 14], [8, 14]].forEach(([dx, dy]) => tb.append('circle').attr('cx', 1297 + dx / 1.6).attr('cy', 169 + dy).attr('r', 2.8).attr('fill', '#c1c4cd'));
icon(tb, 1367, 168, 'M-18,-18h13v14h-13zM5,-18h13v14h-13zM-18,5h13v14h-13zM5,12H20M12,5V20');
icon(tb, 1452, 162, 'M-16,14L8,-16L16,-10L-8,19L-16,19ZM-10,7L-2,13');
tb.append('rect').attr('x', 1429).attr('y', 186).attr('width', 47).attr('height', 8).attr('rx', 3).attr('fill', '#fff').attr('stroke', '#d1d4dc').attr('stroke-width', 2);
tb.append('rect').attr('x', 1518).attr('y', 165).attr('width', 40).attr('height', 5).attr('fill', '#131722');
label(tb, '2px', 1598, 169, 30, '#131722');
tb.append('rect').attr('x', 1668).attr('y', 166).attr('width', 44).attr('height', 3).attr('fill', '#131722');
icon(tb, 1775, 168, HEX);
icon(tb, 1860, 168, ALARM);
icon(tb, 1946, 168, UNLOCK);
icon(tb, 2031, 168, TRASH);
[2103, 2117, 2131].forEach(xp => icon(tb, xp, 169, circlePath(0, 0, 5), '#131722', 2));

// Top toolbar
const topBar = svg.append('g').attr('clip-path', 'url(#screen)');
topBar.append('circle').attr('cx', 45).attr('cy', 49).attr('r', 33).attr('fill', '#a5615f');
label(topBar, 'S', 44, 50, 42, '#fff', { weight: 500 });
topBar.append('circle').attr('cx', 79).attr('cy', 29).attr('r', 21).attr('fill', RED);
label(topBar, '11', 79, 29, 22, '#fff');
icon(topBar, 143, 47, `${circlePath(0, -2, 11)}M8,8L15,17`, '#131722', 3);
label(topBar, 'BTCUSDT', 172, 49, 29, '#131722', { anchor: 'start', weight: 700 });
icon(topBar, 369, 50, `${circlePath(0, 0, 21)}M-10,0H10M0,-10V10`);
topBar.selectAll('.sep').data([423, 1157, 1263, 1498, 1688, 2317]).join('line').attr('class', 'sep')
  .attr('x1', d => d).attr('x2', d => d).attr('y1', 25).attr('y2', 73).attr('stroke', '#e0e3eb').attr('stroke-width', 2);
intervals.forEach(([t, xp]) => label(topBar, t, xp, 52, 31, t === '날' ? BLUE : '#131722'));
icon(topBar, 1125, 49, 'M-7,-4L0,4L7,-4');
icon(topBar, 1211, 49, 'M-10,-23V23M-15,-14H-5V9H-15ZM10,-16V16M5,-8H15V8H5Z');
icon(topBar, 1316, 49, 'M-18,-8L-9,-20L0,-10L16,-24M-20,22V10H-10V22M-10,22V4H2V22M2,22V-2H14V22M-22,22H18');
icon(topBar, 1380, 49, 'M-7,-4L0,4L7,-4');
icon(topBar, 1445, 49, GRID4);
icon(topBar, 1548, 47, ALARM);
icon(topBar, 1636, 49, 'M18,-16V16L4,0ZM4,-16V16L-12,0Z');
icon(topBar, 1738, 49, 'M-12,-14L-2,-24M-12,-14L-2,-4M-12,-14H2Q12,-14 12,-2V12');
icon(topBar, 1824, 49, 'M12,-14L2,-24M12,-14L2,-4M12,-14H-2Q-12,-14 -12,-2V12', '#c1c4cd');
topBar.append('rect').attr('x', 2051).attr('y', 31).attr('width', 40).attr('height', 36).attr('rx', 6).attr('fill', 'none').attr('stroke', '#131722').attr('stroke-width', 2.4);
label(topBar, '이름없음', 2187, 51, 31, '#131722');
icon(topBar, 2286, 49, 'M-7,-4L0,4L7,-4');
icon(topBar, 2371, 49, `${circlePath(-2, 0, 18)}M12,14L20,24M0,-26L-7,0H2L-3,14`);
icon(topBar, 2456, 49, HEX);
icon(topBar, 2541, 49, 'M-17,-7V-17H-7M7,-17H17V-7M-17,7V17H-7M7,17H17V7');
icon(topBar, 2626, 49, `M-22,-14H-9L-5,-20H5L9,-14H22V18H-22Z${circlePath(0, 2, 9)}`);
topBar.append('rect').attr('x', 2678).attr('y', 18).attr('width', 140).attr('height', 62).attr('rx', 31).attr('fill', BLUE);
label(topBar, '퍼블', 2703, 51, 31, '#fff', { anchor: 'start' });

// Left toolbar
const side = svg.append('g');
icon(side, 46, 155, 'M0,-24V-7M0,7V24M-24,0H-8M8,0H24', BLUE, 2.4);
icon(side, 46, 233, `${circlePath(-19, 19, 4)}${circlePath(19, -19, 4)}M-16,16L16,-16`);
icon(side, 46, 315, `M-25,-18H25M-25,-6H21${circlePath(25, -6, 4)}M-25,6H25M-22,18H25${circlePath(-25, 18, 4)}`);
icon(side, 46, 393, `${circlePath(-19, 21, 4)}${circlePath(-13, -16, 4)}${circlePath(-3, -2, 4)}${circlePath(14, -14, 4)}${circlePath(22, 16, 4)}M-18,17L-14,-12M-10,-13L-5,-5M0,-4L11,-12M16,-10L21,12M-16,18L-6,1M0,0L18,14`);
icon(side, 46, 483, `${circlePath(-22, -16, 4)}${circlePath(-22, 0, 4)}${circlePath(-22, 16, 4)}M-18,-16H24M-18,0H20${circlePath(24, 0, 4)}M-18,16H24M-10,-8H22`, '#131722', 2);
icon(side, 46, 563, 'M-26,22Q-18,4 -6,2Q8,2 6,14Q0,22 -26,22ZM8,-2L14,6Q26,2 30,-8');
label(side, 'T', 46, 638, 52, '#131722').attr('font-weight', 300);
icon(side, 46, 719, `${circlePath(0, 0, 23)}M-9,6Q0,14 9,6M-7,-6V-5M7,-6V-5`);
side.selectAll('.sep').data([774, 963, 1397]).join('rect').attr('class', 'sep').attr('x', 6).attr('y', d => d).attr('width', 81).attr('height', 2).attr('fill', '#e0e3eb');
icon(side, 46, 829, 'M-27,14L14,-27L27,-14L-14,27ZM-17,4L-11,10M-8,-5L-2,1M1,-14L7,-8M10,-23L16,-17');
icon(side, 46, 907, `${circlePath(-2, -2, 20)}M-12,-2H8M-2,-12V8M12,12L22,22`);
icon(side, 46, 1019, 'M-18,22V-2A18,18 0 0,1 18,-2V22H6V-2A6,6 0 0,0 -6,-2V22ZM-18,8H-6M6,8H18');
icon(side, 38, 1098, 'M-14,18L-18,6L8,-20L18,-10L-8,16ZM14,14H32V28H14ZM18,14V8A5,5 0 0,1 28,8');
icon(side, 46, 1182, UNLOCK);
icon(side, 42, 1250, `M-24,0Q0,-24 24,0Q0,24 -24,0Z${circlePath(0, 0, 8)}M14,22Q22,14 30,18Q34,22 26,26M30,12Q36,8 40,6`);
icon(side, 46, 1339, 'M-4,6L-16,18Q-24,20 -22,8L-12,-2M4,-6L16,-18Q24,-20 22,-8L12,2M-8,8L8,-8');
icon(side, 46, 1447, TRASH);
side.append('rect').attr('x', 13).attr('y', 1525).attr('width', 67).attr('height', 30).attr('rx', 10).attr('fill', BLUE);

// Bottom bar
const bot = svg.append('g');
ranges.forEach(([t, xp]) => label(bot, t, xp, 1488, 31, '#131722'));
bot.append('line').attr('x1', 838).attr('x2', 838).attr('y1', 1461).attr('y2', 1510).attr('stroke', '#e0e3eb').attr('stroke-width', 2);
icon(bot, 888, 1486, 'M-16,-16H20V18H-2M-16,-16V6M-16,-6H20M-8,-22V-16M12,-22V-16M-22,14H-4M-10,8L-4,14L-10,20');
label(bot, '20:07:24 (UTC+9)', 2735, 1487, 31, '#131722', { anchor: 'end' });
</script>
</body>
</html>
